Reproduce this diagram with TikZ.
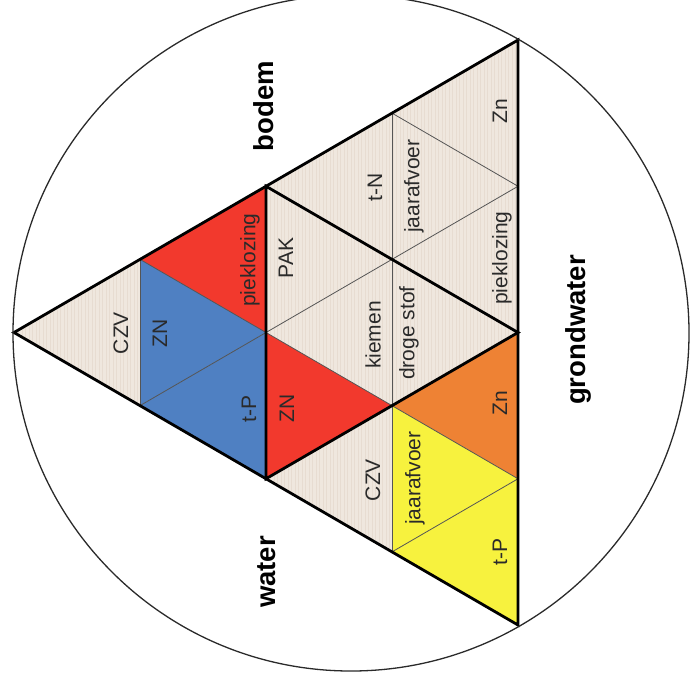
\documentclass[tikz,border=0pt]{standalone}
\usepackage{fontspec}
\setmainfont{Liberation Sans}
\definecolor{beige}{HTML}{EFE7DE}
\definecolor{streak}{HTML}{E0D3C6}
\definecolor{tred}{HTML}{F2392D}
\definecolor{tblue}{HTML}{4F80C2}
\definecolor{torange}{HTML}{EE8234}
\definecolor{tyellow}{HTML}{F7F23E}
\definecolor{ink}{HTML}{2A2A2A}
\tikzset{
  thinline/.style={line width=0.8pt, draw=ink!80},
  thickline/.style={line width=2.8pt, draw=black, line join=miter},
  lab/.style={rotate=90, font=\fontsize{21}{23}\selectfont, text=ink, inner sep=0pt},
  biglab/.style={rotate=90, font=\fontsize{27.5}{30}\selectfont\bfseries, text=black, inner sep=0pt},
}
\begin{document}
\begin{tikzpicture}[x=1pt,y=-1pt]
\useasboundingbox (0,0) rectangle (695,689);
% grid points
\foreach \i in {0,...,4}{
  \foreach \j in {0,...,4}{
    \pgfmathtruncatemacro\s{\i+\j}
    \ifnum\s<5
      \coordinate (p\i\j) at ({14+126*\s},{332.5-73.125*\i+73.125*\j});
    \fi
  }
}
% base fill
\fill[beige] (p00) -- (p40) -- (p04) -- cycle;
\begin{scope}
  \clip (p00) -- (p40) -- (p04) -- cycle;
  \foreach \x in {15,18.5,...,518}{
    \draw[streak, line width=0.7pt, opacity=0.5] (\x,30) -- (\x,640);
  }
\end{scope}
% coloured triangles
\fill[tred] (p10) -- (p20) -- (p11) -- cycle;
\fill[tred] (p11) -- (p12) -- (p02) -- cycle;
\fill[tblue] (p10) -- (p11) -- (p01) -- cycle;
\fill[tblue] (p01) -- (p11) -- (p02) -- cycle;
\fill[torange] (p12) -- (p22) -- (p13) -- cycle;
\fill[tyellow] (p12) -- (p13) -- (p03) -- cycle;
\fill[tyellow] (p03) -- (p13) -- (p04) -- cycle;
% thin grid lines
\draw[thinline] (p10) -- (p01);
\draw[thinline] (p30) -- (p03);
\draw[thinline] (p10) -- (p13);
\draw[thinline] (p30) -- (p31);
\draw[thinline] (p01) -- (p31);
\draw[thinline] (p03) -- (p13);
% thick outline and central triangle
\draw[thickline] (p00) -- (p40) -- (p04) -- cycle;
\draw[thickline] (p20) -- (p22) -- (p02) -- cycle;
% circle
\draw[line width=1.3pt, draw=ink] (351,333) circle[radius=338];
% small labels
\node[lab] (l1) at (121,333) {CZV};
\node[lab] (l2) at (160,333) {ZN};
\node[lab] (l3) at (249,409) {t-P};
\node[lab] (l4) at (250,260) {pieklozing};
\node[lab] (l5) at (286,258) {PAK};
\node[lab] (l6) at (287,408) {ZN};
\node[lab] (l7) at (373,335) {kiemen};
\node[lab] (l8) at (409,333) {droge stof};
\node[lab] (l9) at (375,187) {t-N};
\node[lab] (l10) at (414,186) {jaarafvoer};
\node[lab] (l11) at (500,111) {Zn};
\node[lab] (l12) at (502,258) {pieklozing};
\node[lab] (l13) at (373,480) {CZV};
\node[lab] (l14) at (415,478) {jaarafvoer};
\node[lab] (l15) at (500,403) {Zn};
\node[lab] (l16) at (500,552) {t-P};
% outer labels
\node[biglab] (bodem) at (264,106) {bodem};
\node[biglab] (grond) at (578,330) {grondwater};
\node[biglab] (water) at (267,572) {water};
\end{tikzpicture}
\end{document}
